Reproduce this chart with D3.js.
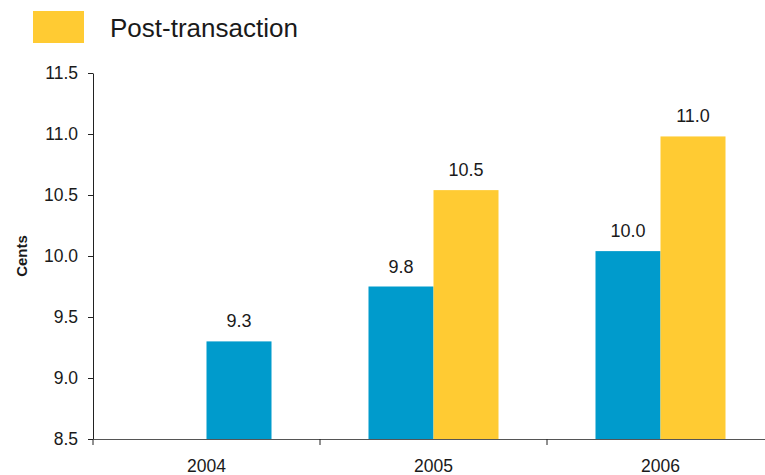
<!DOCTYPE html>
<html>
<head>
<meta charset="utf-8">
<script src="https://cdn.jsdelivr.net/npm/d3@7"></script>
<style>
  html, body { margin: 0; padding: 0; background: #fff; }
  svg { display: block; font-family: "Liberation Sans", Arial, sans-serif; }
</style>
</head>
<body>
<svg id="chart" width="765" height="475"></svg>
<script>
// ---- data ----
const years = ["2004", "2005", "2006"];
const preValues = [null, 9.75, 10.04];     // blue, left slot
const postValues = [9.3, 10.54, 10.98];    // right slot
const actualYears = ["2004"];              // right-slot bar shown as actual (blue)
const yTicks = [8.5, 9.0, 9.5, 10.0, 10.5, 11.0, 11.5];
const legendLabel = "Post-transaction";
const yTitle = "Cents";

const BLUE = "#009BCC";
const YELLOW = "#FFCB33";
const TEXT = "#1a1a1a";

const svg = d3.select("#chart");
const mLeft = 93, mRight = 774, mTop = 73, mBottom = 439;

const x = d3.scaleBand().domain(years).range([mLeft, mRight]).paddingInner(0).paddingOuter(0);
const slot = d3.scaleBand().domain(["pre", "post"]).range([0, x.bandwidth()]).paddingInner(0).paddingOuter(0.746);
const y = d3.scaleLinear().domain([8.5, 11.5]).range([mBottom, mTop]);
const fmt = d3.format(".1f");

// bars
const bars = [];
years.forEach((yr, i) => {
  if (preValues[i] != null) bars.push({ year: yr, key: "pre", v: preValues[i], color: BLUE });
  if (postValues[i] != null) bars.push({ year: yr, key: "post", v: postValues[i],
    color: actualYears.includes(yr) ? BLUE : YELLOW });
});

svg.append("g").selectAll("rect").data(bars).join("rect")
  .attr("x", d => x(d.year) + slot(d.key))
  .attr("width", slot.bandwidth())
  .attr("y", d => y(d.v))
  .attr("height", d => y(8.5) - y(d.v))
  .attr("fill", d => d.color);

svg.append("g").selectAll("text").data(bars).join("text")
  .attr("x", d => x(d.year) + slot(d.key) + slot.bandwidth() / 2)
  .attr("y", d => y(d.v) - 14)
  .attr("text-anchor", "middle")
  .attr("font-size", 18)
  .attr("fill", TEXT)
  .text(d => fmt(d.v));

// y axis
const yAxis = svg.append("g").attr("transform", `translate(${mLeft},0)`)
  .call(d3.axisLeft(y).tickValues(yTicks).tickFormat(fmt).tickSize(5).tickSizeOuter(0).tickPadding(10));
yAxis.select(".domain").attr("stroke", "#222");
yAxis.selectAll(".tick line").attr("stroke", "#222");
yAxis.selectAll(".tick text").attr("font-size", 17.5).attr("fill", TEXT).attr("font-family", "Liberation Sans, Arial, sans-serif");

// x axis
const xAxis = svg.append("g").attr("transform", `translate(0,${mBottom})`)
  .call(d3.axisBottom(x).tickSize(0).tickSizeOuter(0).tickPadding(21));
xAxis.select(".domain").attr("stroke", "#555");
xAxis.selectAll(".tick text").attr("font-size", 17.5).attr("fill", TEXT).attr("font-family", "Liberation Sans, Arial, sans-serif");
const bounds = years.map(d => x(d)).concat([x(years[years.length - 1]) + x.bandwidth()]);
xAxis.append("g").selectAll("line").data(bounds).join("line")
  .attr("x1", d => d).attr("x2", d => d)
  .attr("y1", 0).attr("y2", 6)
  .attr("stroke", "#222");

// y title
svg.append("text")
  .attr("transform", `translate(27,256) rotate(-90)`)
  .attr("text-anchor", "middle")
  .attr("font-size", 15)
  .attr("font-weight", "bold")
  .attr("fill", TEXT)
  .text(yTitle);

// legend
svg.append("rect").attr("x", 33).attr("y", 11).attr("width", 51).attr("height", 32).attr("fill", YELLOW);
svg.append("text").attr("x", 110).attr("y", 37).attr("font-size", 26).attr("fill", TEXT).text(legendLabel);
</script>
</body>
</html>
